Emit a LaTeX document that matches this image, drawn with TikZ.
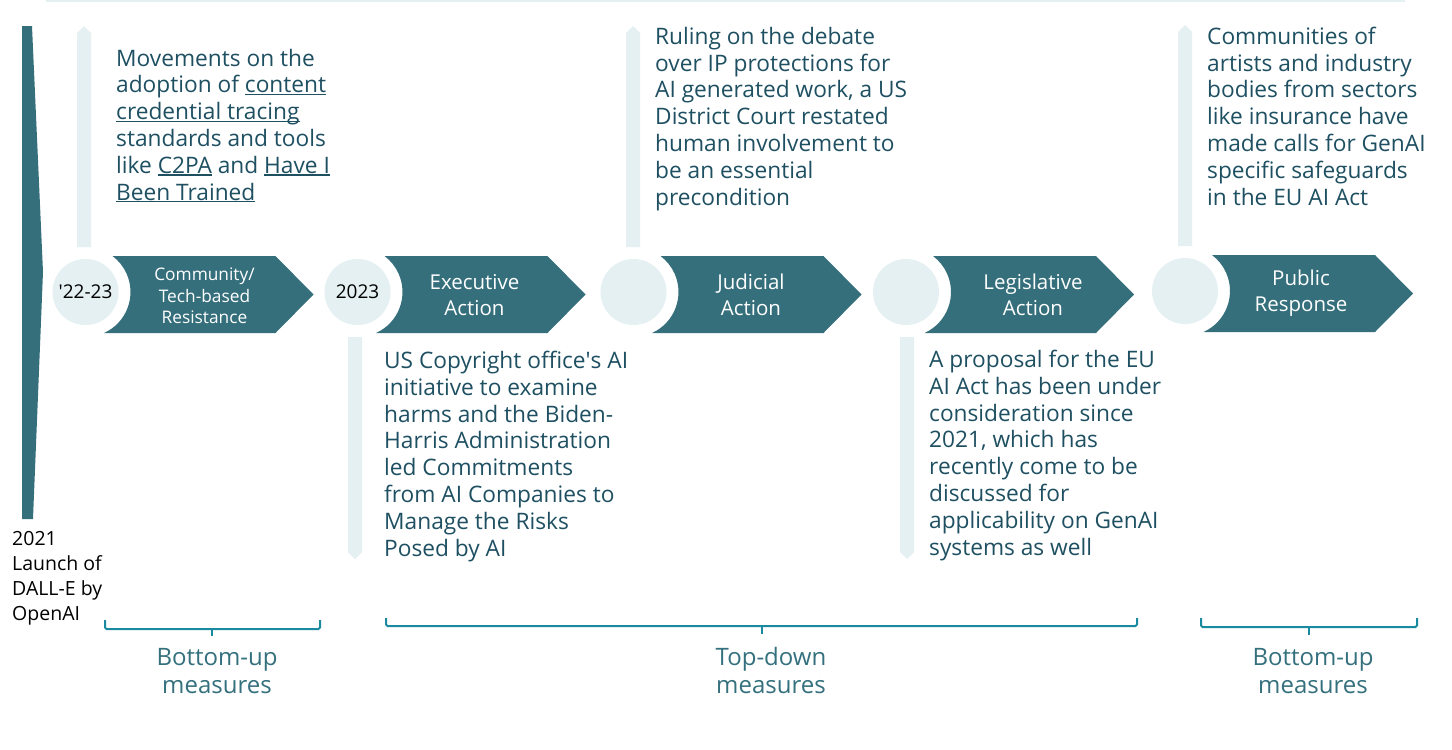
\documentclass[tikz,border=0pt]{standalone}
\usepackage{fontspec}
\setmainfont{Open Sans}
\usetikzlibrary{calc}
\definecolor{teal1}{RGB}{53,111,124}
\definecolor{pale}{RGB}{228,240,242}
\definecolor{txt}{RGB}{30,80,98}
\definecolor{brk}{RGB}{25,138,160}
\definecolor{meas}{RGB}{52,112,125}
\newcommand\ulk[1]{\leavevmode\setbox0\hbox{#1}\rlap{\rule[-2.4pt]{\wd0}{1.3pt}}\box0\relax}
\newcommand\sq{\XeTeXglyph\XeTeXcharglyph"27\relax}
\newcommand\chevron[1]{%
  \fill[chev] ([shift={(-53.13:45)}]#1.center) -- ([shift={(190,-36)}]#1.center)
    -- ([shift={(228,2.5)}]#1.center) -- ([shift={(190,41)}]#1.center)
    -- ([shift={(65.7:45)}]#1.center) arc[start angle=65.7, end angle=-53.13, radius=45] -- cycle;}
\newcommand\upbar[2]{%
  \fill[bar] ([shift={(#2-7,-45)}]#1.center) -- ([shift={(#2-7,-259)}]#1.center)
    -- ([shift={(#2,-266)}]#1.center) -- ([shift={(#2+7,-259)}]#1.center)
    -- ([shift={(#2+7,-45)}]#1.center) -- cycle;}
\newcommand\downbar[2]{%
  \fill[bar] ([shift={(#2-7,45)}]#1.center) -- ([shift={(#2-7,260)}]#1.center)
    -- ([shift={(#2,267)}]#1.center) -- ([shift={(#2+7,260)}]#1.center)
    -- ([shift={(#2+7,45)}]#1.center) -- cycle;}
\tikzset{
  body/.style={anchor=base west, align=left, inner sep=0, text=txt, font=\fontsize{22.7}{26.8}\selectfont},
  steplabel/.style={text=white, align=center, inner sep=0, font=\fontsize{20.5}{26}\selectfont},
  yearc/.style={circle, fill=pale, minimum size=66pt, inner sep=0, text=black, font=\fontsize{19}{22}\selectfont},
  chev/.style={fill=teal1},
  bar/.style={fill=pale},
  bracket/.style={draw=brk, line width=2pt, rounded corners=1.5pt},
  measure/.style={anchor=base, text=meas, align=center, inner sep=0, font=\fontsize{24}{27.5}\selectfont},
}
\begin{document}
\begin{tikzpicture}[x=1pt, y=-1pt]
\useasboundingbox[fill=white] (0,0) rectangle (1452,750);
% top line
\draw[pale, line width=1.5pt] (46,1) -- (1405,1);
% left launch bar
\fill[teal1] (22,26) -- (32,26) -- (43,272) -- (33,519) -- (22,519) -- cycle;
\node[anchor=base west, align=left, inner sep=0, text=black, font=\fontsize{19.5}{24.8}\selectfont] (launch) at (12,620) {2021\\Launch of\\DALL-E by\\OpenAI};
% circles
\node[yearc] (c1) at (85.5,292) {\sq 22-23};
\node[yearc] (c2) at (357.5,292) {2023};
\node[yearc] (c3) at (633.5,292) {};
\node[yearc] (c4) at (906,292) {};
\node[yearc] (c5) at (1185,291) {};
% chevrons
\chevron{c1}\chevron{c2}\chevron{c3}\chevron{c4}\chevron{c5}
% bars
\upbar{c1}{-1.5}
\upbar{c3}{-0.5}
\upbar{c5}{0}
\downbar{c2}{-2.5}
\downbar{c4}{1}
% step labels
\node[steplabel, font=\fontsize{17.3}{21.5}\selectfont] (l1) at ([shift={(119,4)}]c1.center) {Community/\\Tech-based\\Resistance};
\node[steplabel] (l2) at ([shift={(117,3)}]c2.center) {Executive\\Action};
\node[steplabel] (l3) at ([shift={(117.5,3)}]c3.center) {Judicial\\Action};
\node[steplabel] (l4) at ([shift={(127,3)}]c4.center) {Legislative\\Action};
\node[steplabel] (l5) at ([shift={(116,2)}]c5.center) {Public\\Response};
% texts (anchored at the baseline of their last line)
\node[body] (t1) at (116,200) {Movements on the\\adoption of \ulk{content}\\\ulk{credential tracing}\\standards and tools\\like \ulk{C2PA} and \ulk{Have I}\\\ulk{Been Trained}};
\node[body] (t2) at (655,205) {Ruling on the debate\\over IP protections for\\AI generated work, a US\\District Court restated\\human involvement to\\be an essential\\precondition};
\node[body] (t3) at (1207,205) {Communities of\\artists and industry\\bodies from sectors\\like insurance have\\made calls for GenAI\\specific safeguards\\in the EU AI Act};
\node[body] (t4) at (384,556) {US Copyright office\sq s AI\\initiative to examine\\harms and the Biden-\\Harris Administration\\led Commitments\\from AI Companies to\\Manage the Risks\\Posed by AI};
\node[body] (t5) at (929,555) {A proposal for the EU\\AI Act has been under\\consideration since\\2021, which has\\recently come to be\\discussed for\\applicability on GenAI\\systems as well};
% brackets
\draw[bracket] (105,620) |- (320,629) -- (320,620);
\draw[bracket] (212,629) -- (212,636);
\draw[bracket] (386,618) |- (1137,626) -- (1137,618);
\draw[bracket] (762,626) -- (762,634);
\draw[bracket] (1201,618) |- (1417,627) -- (1417,618);
\draw[bracket] (1309,627) -- (1309,635);
% measure labels
\node[measure] (m1) at (217,693) {Bottom-up\\measures};
\node[measure] (m2) at (771,693) {Top-down\\measures};
\node[measure] (m3) at (1313,693) {Bottom-up\\measures};
\end{tikzpicture}
\end{document}
